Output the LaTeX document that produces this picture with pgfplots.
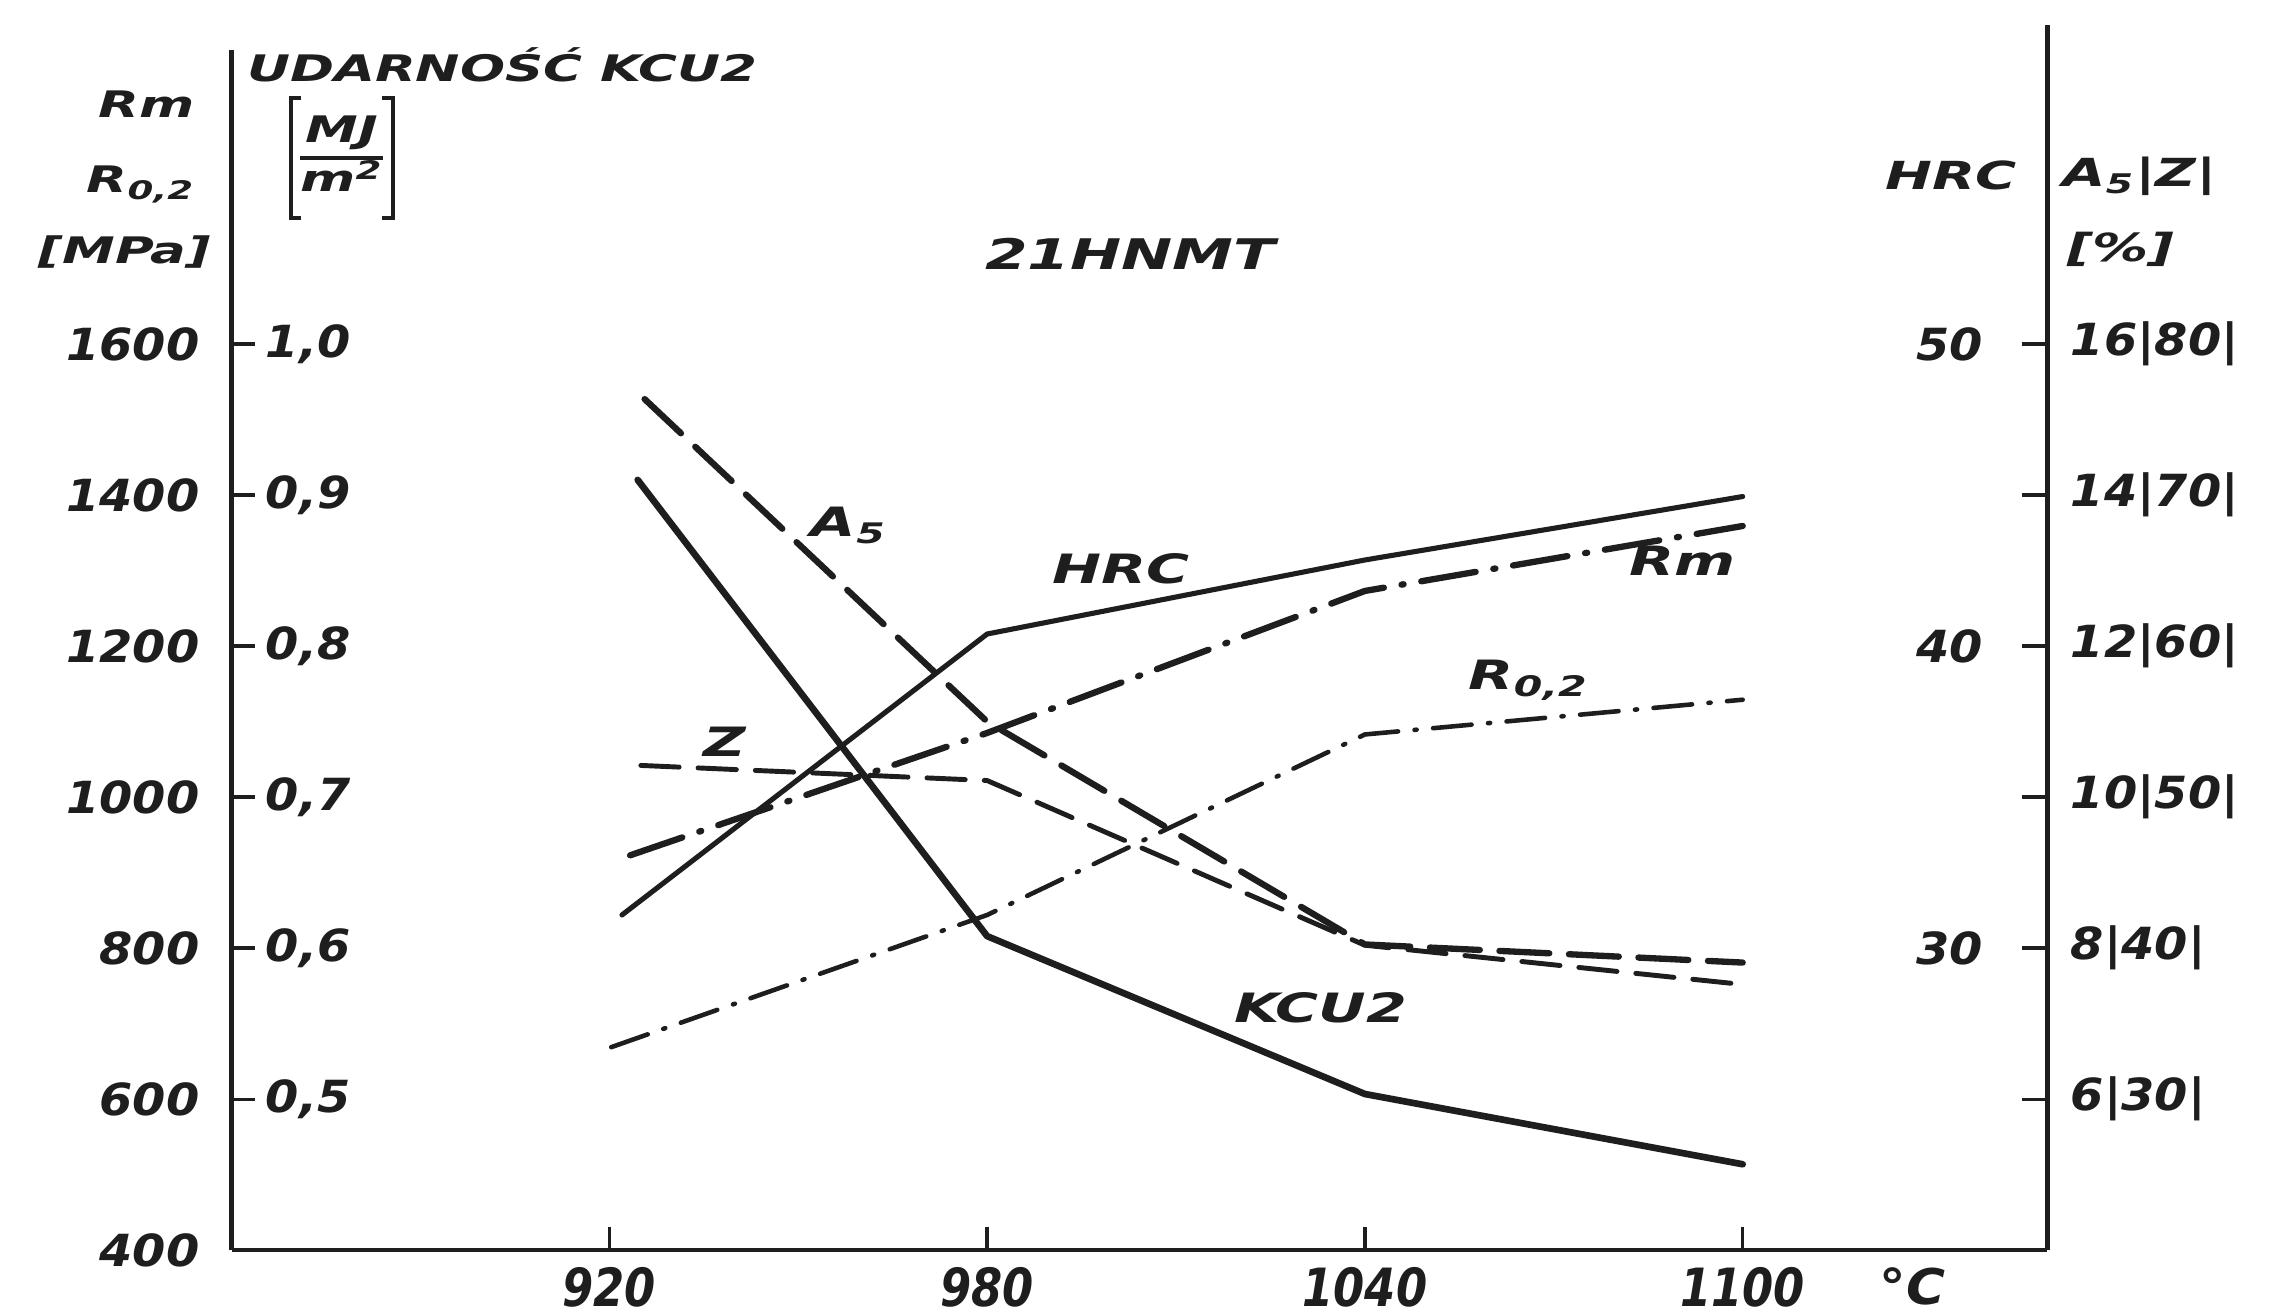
\documentclass[border=0pt]{standalone}
\usepackage{pgfplots}
\pgfplotsset{compat=1.18}
\usepackage{fontspec}
\setmainfont{DejaVu Sans}
\newfontfamily\numfont{DejaVu Sans}[FakeStretch=1.08]
\newfontfamily\widefont{DejaVu Sans}[FakeStretch=1.45]
\newfontfamily\xfont{DejaVu Sans}[FakeStretch=0.85]
\definecolor{ink}{HTML}{1E1E1E}
\newcommand{\nf}{\numfont\bfseries\itshape\fontsize{12.6}{14}\selectfont}
\newcommand{\wf}[1]{\widefont\bfseries\itshape\fontsize{#1}{#1}\selectfont}
\pgfplotsset{
  base/.style={scale only axis, width=181.6mm, height=120.05mm,
    xmin=860, xmax=1148.4, clip=false,
    axis line style={-, line width=1.2pt, draw=ink},
    tick style={line width=1pt, draw=ink},
    major tick length=2.3mm, tick align=inside,
    every tick label/.append style={text=ink}},
  curve/.style={ink, line cap=round, line join=round},
}
\begin{document}
\begin{tikzpicture}
% ---------- MPa axis (Rm, R0,2) ----------
\begin{axis}[base, name=A, ymin=400, ymax=1989.2,
  axis x line*=bottom, axis y line*=left,
  xtick={920,980,1040,1100}, xticklabels={920,980,1040,1100},
  xticklabel style={font=\xfont\bfseries\itshape\fontsize{15}{16}\selectfont, anchor=center, inner sep=0pt, yshift=-3.7mm},
  ytick={400,600,800,1000,1200,1400,1600},
  yticklabels={400,600,800,1000,1200,1400,1600},
  yticklabel style={font=\nf, anchor=east, inner sep=0pt, xshift=-3.16mm},
]
\addplot[curve, line width=1.8pt, dash pattern=on 15.7pt off 5.1pt on 0.6pt off 5.1pt]
  coordinates {(923.3,923) (980,1085) (1040,1273) (1100,1359)};
\addplot[curve, line width=1.3pt, dash pattern=on 11pt off 4.7pt on 0.6pt off 4.7pt]
  coordinates {(920.3,669) (980,844) (1040,1083) (1100,1129)};
% titles and labels
\node[anchor=base west, inner sep=0pt, text=ink] at (axis cs:862.35,1947) {\wf{10.4}UDARNOŚĆ KCU2};
\node[anchor=base east, inner sep=0pt, text=ink] at (axis cs:854.3,1900) {\wf{10.4}Rm};
\node[anchor=base east, inner sep=0pt, text=ink] at (axis cs:854.3,1800.3) {\wf{10.4}R\textsubscript{0,2}};
\node[anchor=east, inner sep=0pt, text=ink] at (axis cs:856.8,1721.4) {\wf{10.4}[MPa]};
\node[inner xsep=2.5pt, inner ysep=0pt, text=ink] (frac) at (axis cs:877.5,1846)
  {\wf{10.4}\setlength{\arrayrulewidth}{1pt}\renewcommand{\arraystretch}{1.25}\begin{tabular}{@{}c@{}}MJ\\\hline m\textsuperscript{2}\end{tabular}};
\draw[ink, line width=1.1pt] ([xshift=3pt,yshift=1.2mm]frac.north west) -- ([yshift=1.2mm]frac.north west)
  -- ([yshift=-1.2mm]frac.south west) -- ([xshift=3pt,yshift=-1.2mm]frac.south west);
\draw[ink, line width=1.1pt] ([xshift=-3pt,yshift=1.2mm]frac.north east) -- ([yshift=1.2mm]frac.north east)
  -- ([yshift=-1.2mm]frac.south east) -- ([xshift=-3pt,yshift=-1.2mm]frac.south east);
\node[inner sep=0pt, text=ink] at (axis cs:1002.7,1719.7) {\wf{12}21HNMT};
\node[anchor=base east, inner sep=0pt, text=ink] at (axis cs:1143.6,1804) {\wf{11}HRC};
\node[anchor=base west, inner sep=0pt, text=ink] at (axis cs:1150.7,1807.8) {\wf{11}A\textsubscript{5}|Z|};
\node[anchor=west, inner sep=0pt, text=ink] at (axis cs:1151.4,1725.4) {\wf{11}[\%]};
\node[inner sep=0pt, text=ink] at (axis cs:1127,352) {\numfont\bfseries\itshape\fontsize{14}{14}\selectfont °C};
% curve labels
\node[anchor=base west, inner sep=0pt, text=ink] at (axis cs:951.9,1344.8) {\wf{11.5}A\textsubscript{5}};
\node[anchor=base west, inner sep=0pt, text=ink] at (axis cs:990.3,1283) {\wf{11.5}HRC};
\node[anchor=base west, inner sep=0pt, text=ink] at (axis cs:1081.9,1293.8) {\wf{11.5}Rm};
\node[anchor=base west, inner sep=0pt, text=ink] at (axis cs:1056.4,1141.9) {\wf{11.5}R\textsubscript{0,2}};
\node[anchor=base west, inner sep=0pt, text=ink] at (axis cs:934.8,1054) {\wf{11.5}Z};
\node[anchor=base west, inner sep=0pt, text=ink] at (axis cs:1019.1,701.1) {\wf{11.5}KCU2};
\end{axis}
% ---------- KCU2 axis ----------
\begin{axis}[base, ymin=0.4, ymax=1.1946,
  axis x line=none, axis y line*=left, axis line style={draw=none}, tick style={draw=none},
  ytick={0.5,0.6,0.7,0.8,0.9,1.0},
  yticklabels={{0,5},{0,6},{0,7},{0,8},{0,9},{1,0}},
  yticklabel style={font=\nf, anchor=west, inner sep=0pt, xshift=3.36mm},
]
\addplot[curve, line width=1.9pt] coordinates {(924.5,0.910) (980,0.608) (1040,0.5035) (1100,0.457)};
\end{axis}
% ---------- HRC axis ----------
\begin{axis}[base, ymin=20, ymax=59.73,
  axis x line=none, axis y line*=right,
  y axis line style={shorten >=-2.5mm},
  major tick length=2.5mm,
  ytick={25,30,35,40,45,50}, yticklabels={,30,,40,,50},
  yticklabel style={font=\nf, anchor=east, inner sep=0pt, xshift=-6.4mm},
]
\addplot[curve, line width=1.45pt] coordinates {(922,31.1) (980,40.4) (1040,42.85) (1100,44.95)};
\end{axis}
% ---------- A5 axis ----------
\begin{axis}[base, ymin=4, ymax=19.892,
  axis x line=none, axis y line*=right, axis line style={draw=none}, tick style={draw=none},
  ytick={6,8,10,12,14,16},
  yticklabels={6|30|,8|40|,10|50|,12|60|,14|70|,16|80|},
  yticklabel style={font=\nf, anchor=west, inner sep=0pt, xshift=2.26mm},
]
\addplot[curve, line width=1.8pt, dash pattern=on 14.2pt off 5.6pt] coordinates {(925.6,15.27) (980,11.0) (1040,8.05) (1100,7.81)};
\end{axis}
% ---------- Z axis ----------
\begin{axis}[base, ymin=20, ymax=99.46, hide axis]
\addplot[curve, line width=1.4pt, dash pattern=on 10.9pt off 5.4pt] coordinates {(925,52.1) (980,51.1) (1040,40.2) (1100,37.6)};
\end{axis}
\pgfresetboundingbox
\path[use as bounding box] ([xshift=-23.16mm,yshift=-6.52mm]A.south west) rectangle ([xshift=22.46mm,yshift=5.0mm]A.north east);
\end{tikzpicture}
\end{document}
